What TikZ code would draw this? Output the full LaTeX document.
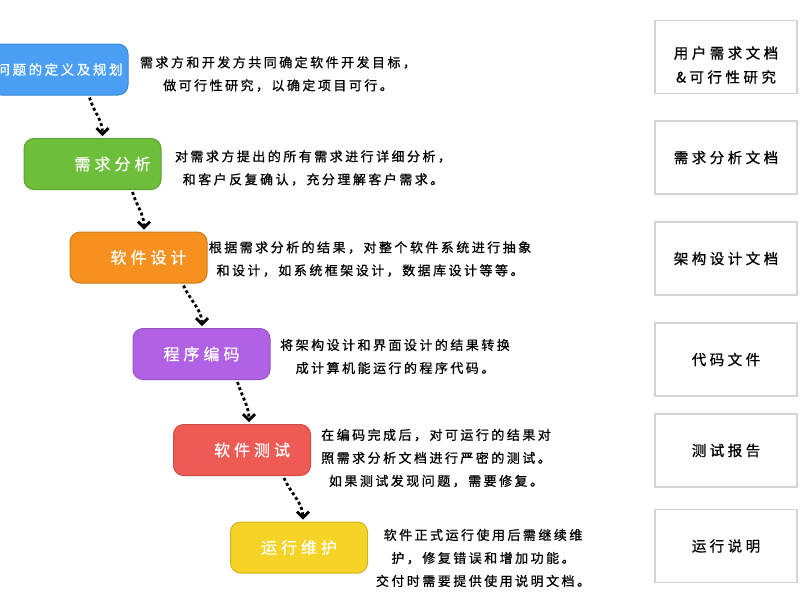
\documentclass[tikz,border=0pt]{standalone}
\usepackage{fontspec}
\usetikzlibrary{arrows.meta,calc}
\newfontfamily\descfont[LetterSpace=19,FakeBold=0.8]{Noto Sans CJK SC}
\newfontfamily\boxfont[LetterSpace=25,FakeBold=0.6]{Noto Sans CJK SC}
\newfontfamily\docfont[LetterSpace=24,FakeBold=0.8]{Noto Sans CJK SC}
\definecolor{cblue}{HTML}{4A9FF5}
\definecolor{cgreen}{HTML}{6DBE3A}
\definecolor{corange}{HTML}{F6901E}
\definecolor{cpurple}{HTML}{B162E4}
\definecolor{cred}{HTML}{EE5B55}
\definecolor{cyellow}{HTML}{F5D327}
\definecolor{cgrayline}{HTML}{D4D4D4}
\tikzset{
  stage/.style={rounded corners=10pt, minimum width=137pt, minimum height=51pt, inner sep=0pt,
    text=white, font=\boxfont\fontsize{16}{18}\selectfont, line width=1pt},
  desc/.style={align=center, inner sep=0pt, font=\descfont\fontsize{13}{23}\selectfont, text=black},
  doc/.style={draw=cgrayline, line width=1.2pt, minimum width=142pt, minimum height=73pt, inner sep=0pt,
    align=center, font=\docfont\fontsize{14.5}{24}\selectfont, text=black},
  flow/.style={line width=2.8pt, dash pattern=on 3pt off 2.6pt, black,
    -{Straight Barb[length=6pt,width=12pt]}},
}
\begin{document}
\begin{tikzpicture}[x=1pt,y=-1pt]
\useasboundingbox (0,0) rectangle (800,600);
\fill[white] (0,0) rectangle (800,600);

% stages
\node[stage, fill=cblue, draw=cblue!85!black, font=\descfont\fontsize{13.5}{16}\selectfont] (b1) at (59.5,69.5) {问题的定义及规划};
\node[stage, fill=cgreen, draw=cgreen!85!black] (b2) at (92.5,164) {\hspace*{40pt}需求分析};
\node[stage, fill=corange, draw=corange!85!black] (b3) at (138.5,257.5) {\hspace*{20pt}软件设计};
\node[stage, fill=cpurple, draw=cpurple!85!black] (b4) at (201.5,354) {程序编码};
\node[stage, fill=cred, draw=cred!85!black] (b5) at (242,450) {\hspace*{20pt}软件测试};
\node[stage, fill=cyellow, draw=cyellow!85!black] (b6) at (299,547.5) {运行维护};

% descriptions
\node[desc] (d1) at (278,74) {需求方和开发方共同确定软件开发目标，\\做可行性研究，以确定项目可行。};
\node[desc] (d2) at (313,168) {对需求方提出的所有需求进行详细分析，\\和客户反复确认，充分理解客户需求。};
\node[desc] (d3) at (370,259) {根据需求分析的结果，对整个软件系统进行抽象\\和设计，如系统框架设计，数据库设计等等。};
\node[desc] (d4) at (395,356.5) {将架构设计和界面设计的结果转换\\成计算机能运行的程序代码。};
\node[desc] (d5) at (436,458) {在编码完成后，对可运行的结果对\\照需求分析文档进行严密的测试。\\如果测试发现问题，需要修复。};
\node[desc] (d6) at (483,558) {软件正式运行使用后需继续维\\护，修复错误和增加功能。\\交付时需要提供使用说明文档。};

% documents
\node[doc, label={[align=center, inner sep=0pt, font=\docfont\fontsize{14.5}{24}\selectfont, yshift=-8pt]center:用户需求文档\\\&可行性研究}] (r1) at (726,57) {};
\node[doc] (r2) at (726,157.5) {需求分析文档};
\node[doc] (r3) at (726,258.5) {架构设计文档};
\node[doc] (r4) at (726,359.5) {代码文件};
\node[doc] (r5) at (726,450.5) {测试报告};
\node[doc] (r6) at (726,546) {运行说明};

% arrows
\draw[flow] ($(b1.south)+(30,2)$) .. controls +(4,14) and +(0,-16) .. ($(b2.north)+(10,-2)$);
\draw[flow] ($(b2.south)+(40,2)$) .. controls +(4,14) and +(0,-16) .. ($(b3.north)+(5.5,-2)$);
\draw[flow] ($(b3.south)+(45,2)$) .. controls +(6,14) and +(0,-16) .. ($(b4.north)+(0.5,-2)$);
\draw[flow] ($(b4.south)+(36,2)$) .. controls +(4,14) and +(0,-16) .. ($(b5.north)+(7,-2)$);
\draw[flow] ($(b5.south)+(42,2)$) .. controls +(6,14) and +(0,-16) .. ($(b6.north)+(4,-2)$);
\end{tikzpicture}
\end{document}
